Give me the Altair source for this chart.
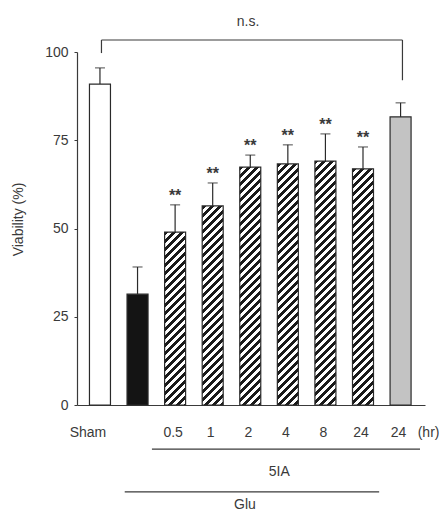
import altair as alt
import pandas as pd

# ---- data ----
labels = ["Sham", "Glu", "0.5", "1", "2", "4", "8", "24", "24"]
means = [90.9, 31.4, 49.0, 56.4, 67.4, 68.3, 69.1, 66.9, 81.6]
err_tops = [95.5, 39.1, 56.7, 62.9, 70.8, 73.7, 76.8, 73.1, 85.6]
kinds = ["white", "black", "hatch", "hatch", "hatch", "hatch", "hatch", "hatch", "gray"]
signif = ["", "", "**", "**", "**", "**", "**", "**", ""]
tick_text = ["Sham", "", "0.5", "1", "2", "4", "8", "24", "24"]
y_ticks = [0, 25, 50, 75, 100]

W, H = 348, 353
XDOM = [-0.478, 8.517]
BARW = 21
FONT = "Liberation Sans"
FS = 14
INK = "#3a3a3a"

df = pd.DataFrame({
    "pos": list(range(len(labels))),
    "label": labels,
    "mean": means,
    "top": err_tops,
    "kind": kinds,
    "sig": signif,
    "tick": tick_text,
})
fillmap = {"white": "#ffffff", "black": "#141414", "gray": "#c3c3c3", "hatch": "#ffffff"}
df["fill"] = df["kind"].map(fillmap)

xs = alt.Scale(domain=XDOM, nice=False, zero=False)
ys = alt.Scale(domain=[0, 100], nice=False)

X = alt.X("pos:Q", scale=xs,
          axis=alt.Axis(title=None, labels=False, ticks=False, grid=False,
                        domainColor=INK, domainWidth=1.2))
Y = alt.Y("mean:Q", scale=ys,
          axis=alt.Axis(title="Viability (%)", values=y_ticks, grid=False,
                        tickSize=3, tickColor=INK, domainColor=INK, domainWidth=1.2,
                        labelPadding=6, labelFont=FONT, labelFontSize=FS, labelColor=INK,
                        titleFont=FONT, titleFontSize=FS, titleFontWeight="normal",
                        titleColor=INK, titleX=-52, titleY=167))

base = alt.Chart(df)

plain = base.transform_filter("datum.kind != 'hatch'").mark_bar(
    width=BARW, stroke="#2a2a2a", strokeWidth=1.2
).encode(x=X, y=Y, fill=alt.Fill("fill:N", scale=None))

# hatched bars: a linear gradient with hard stops, one layer per bar
hatch_layers = []
PERIOD = 8.0
for i, k in enumerate(kinds):
    if k != "hatch":
        continue
    h = means[i] * H / 100.0
    w = float(BARW)
    kk = (w + h) / (w * w + h * h)
    dt = PERIOD / (w + h)
    stops = []
    j = 0
    while j * dt <= 1:
        s = j * dt
        m = s + 0.5 * dt
        e = s + dt
        stops += [
            {"color": "#1a1a1a", "offset": min(s, 1)},
            {"color": "#1a1a1a", "offset": min(m, 1)},
            {"color": "#ffffff", "offset": min(m, 1)},
            {"color": "#ffffff", "offset": min(e, 1)},
        ]
        j += 1
    grad = {"gradient": "linear", "x1": 0, "y1": 0, "x2": w * kk, "y2": h * kk, "stops": stops}
    hatch_layers.append(
        base.transform_filter(f"datum.pos == {i}").mark_bar(
            width=BARW, fill=grad, stroke="#2a2a2a", strokeWidth=1.2
        ).encode(x=X, y=Y)
    )

err = base.mark_rule(color="#2a2a2a", strokeWidth=1.2).encode(
    x="pos:Q", y="mean:Q", y2="top:Q")
cap = base.mark_tick(orient="horizontal", size=10, thickness=1.2, color="#2a2a2a").encode(
    x="pos:Q", y="top:Q")
stars = base.mark_text(font=FONT, fontSize=16, fontWeight="bold", color=INK,
                       baseline="middle", dy=-9).encode(
    x="pos:Q", y="top:Q", text="sig:N")

ticklab = base.transform_filter("datum.pos > 0").mark_text(
    font=FONT, fontSize=FS, color=INK, baseline="middle", dx=-2).encode(
    x="pos:Q", y=alt.datum(-8), text="tick:N")
shamlab = base.transform_filter("datum.pos == 0").mark_text(
    font=FONT, fontSize=FS, color=INK, baseline="middle", dx=-12).encode(
    x="pos:Q", y=alt.datum(-8), text="tick:N")
hrlab = base.transform_filter("datum.pos == 8").mark_text(
    font=FONT, fontSize=FS, color=INK, baseline="middle", dx=28).encode(
    x="pos:Q", y=alt.datum(-8), text=alt.datum("(hr)"))

# annotation lines (groups and n.s. bracket)
ann = pd.DataFrame({
    "x": [1.383, 0.659, 0.04, 0.04, 8.05],
    "x2": [8.517, 7.43, 8.05, 0.04, 8.05],
    "y": [-12.5, -24.6, 103.4, 103.4, 103.4],
    "y2": [-12.5, -24.6, 103.4, 99.7, 92.0],
})
lines = alt.Chart(ann).mark_rule(color=INK, strokeWidth=1.2).encode(
    x=alt.X("x:Q", scale=xs), x2="x2:Q", y=alt.Y("y:Q", scale=ys), y2="y2:Q")

txt = pd.DataFrame({
    "x": [4.77, 3.86, 3.94],
    "y": [-19.0, -28.2, 108.5],
    "t": ["5IA", "Glu", "n.s."],
})
texts = alt.Chart(txt).mark_text(font=FONT, fontSize=FS, color=INK, baseline="middle").encode(
    x=alt.X("x:Q", scale=xs), y=alt.Y("y:Q", scale=ys), text="t:N")

chart = alt.layer(
    plain, *hatch_layers, err, cap, stars, ticklab, shamlab, hrlab, lines, texts
).properties(
    width=W, height=H,
    autosize=alt.AutoSizeParams(type="none"),
    padding={"left": 69, "top": 44, "right": 14, "bottom": 107},
).configure_view(stroke=None)

chart.save("out.html", embed_options={"renderer": "svg", "actions": False})
